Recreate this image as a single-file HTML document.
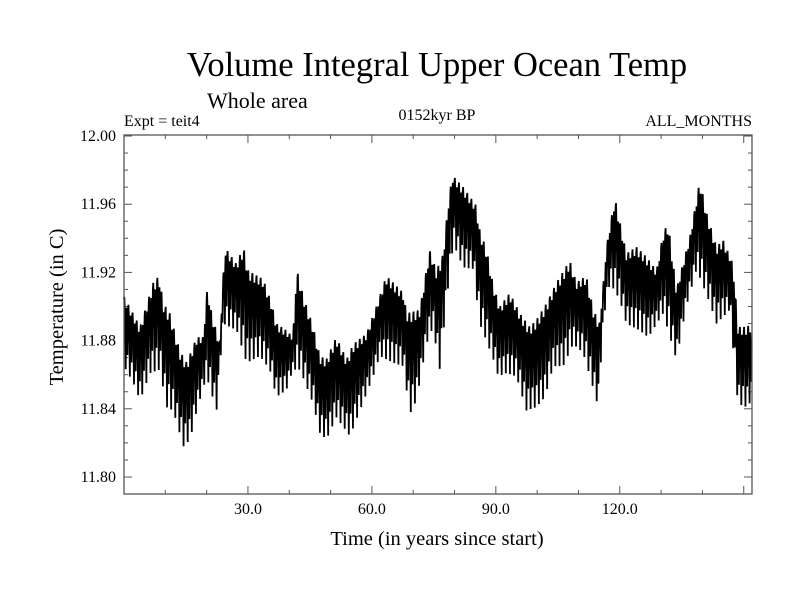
<!DOCTYPE html>
<html><head><meta charset="utf-8"><style>
body{margin:0;background:#fff}
svg text{font-family:"Liberation Serif",serif;fill:#000}
</style></head><body>
<svg id="chart" width="800" height="600" viewBox="0 0 800 600" xmlns="http://www.w3.org/2000/svg">
<rect width="800" height="600" fill="#fff"/>
<text x="437" y="76" font-size="34.5" text-anchor="middle">Volume Integral Upper Ocean Temp</text>
<text x="207" y="108" font-size="22">Whole area</text>
<text x="124" y="126" font-size="16">Expt = teit4</text>
<text x="437" y="120" font-size="16" text-anchor="middle">0152kyr BP</text>
<text x="752" y="126" font-size="16" text-anchor="end">ALL_MONTHS</text>
<text transform="translate(63,307) rotate(-90)" font-size="20.5" text-anchor="middle">Temperature (in C)</text>
<text x="437" y="545" font-size="20.5" text-anchor="middle">Time (in years since start)</text>
<g id="axes"></g>
<g id="series"></g>
<rect x="124" y="135" width="628" height="359" fill="none" stroke="#555" stroke-width="1.3"/>
</svg>
<script>
const hiYears=[0,3.9,7.1,8.5,9.5,11.1,13.5,15.2,17.6,19.2,20.2,21.2,23.2,24.4,27.2,28.9,30.1,33.7,35.7,36.9,39.3,40.9,41.8,43.4,45.8,47.4,49,51.4,53.9,55.5,58.7,61.1,63.5,67.6,68.4,71.6,74,75.6,77.3,78.5,79.5,82.1,85.3,86.1,87.8,89.4,91,93.4,95.8,98.2,99.8,102.3,104.7,107.9,109.5,111.9,113.6,115.2,116.8,118.8,120.4,121.6,124,126.5,128.9,130.5,131.7,133.7,137,139.4,141,143.4,145,147.4,148.6,150.7,152];
const hiVals=[11.906,11.888,11.914,11.918,11.902,11.896,11.874,11.867,11.882,11.882,11.912,11.896,11.878,11.935,11.925,11.935,11.921,11.916,11.902,11.890,11.886,11.882,11.922,11.906,11.888,11.871,11.869,11.882,11.869,11.878,11.884,11.900,11.918,11.908,11.896,11.898,11.933,11.921,11.931,11.961,11.977,11.970,11.959,11.945,11.933,11.912,11.900,11.908,11.896,11.888,11.892,11.902,11.914,11.927,11.914,11.918,11.898,11.890,11.935,11.964,11.945,11.931,11.935,11.929,11.921,11.943,11.949,11.910,11.941,11.974,11.955,11.935,11.939,11.925,11.888,11.888,11.890];
const loYears=[0,2.3,3.9,6.3,8.7,10.3,11.9,14.4,16,17.6,20,22.4,24,27.3,29.7,32.9,35.3,36.9,39.3,40.9,42.6,45.8,47.4,49,51.4,54.7,57.1,60.3,61.9,65.2,67.6,69.2,70.8,73.2,74.8,76.4,78,79.7,82.1,84.5,86.1,87.4,89.4,90.6,92.6,95,97.4,99.8,101.9,103.9,106.3,108.7,111.1,112.8,114.8,116,117.6,120,121.6,124.8,126.9,130.5,133.7,136.1,138.6,141.8,143.4,146.6,148.6,150.7,152];
const loVals=[11.865,11.855,11.845,11.861,11.863,11.841,11.839,11.818,11.822,11.839,11.859,11.839,11.890,11.886,11.867,11.871,11.863,11.847,11.851,11.863,11.863,11.843,11.826,11.822,11.835,11.824,11.839,11.859,11.871,11.867,11.865,11.837,11.845,11.878,11.888,11.863,11.902,11.937,11.923,11.922,11.890,11.882,11.869,11.859,11.861,11.859,11.839,11.841,11.847,11.865,11.865,11.878,11.873,11.859,11.841,11.892,11.914,11.904,11.890,11.886,11.882,11.896,11.869,11.900,11.922,11.902,11.890,11.898,11.843,11.841,11.845];
const yTickLabels=["11.80","11.84","11.88","11.92","11.96","12.00"];
const xTickLabels=["30.0","60.0","90.0","120.0"];

const NS="http://www.w3.org/2000/svg";
const X0=124,X1=752,XMIN=0,XMAX=152;
const xs=v=>X0+(v-XMIN)/(XMAX-XMIN)*(X1-X0);
const ys=v=>136+(12.0-v)/0.2*341;
function look(xa,va,t){if(t<=xa[0])return va[0];for(let i=1;i<xa.length;i++){if(t<=xa[i]){const f=(t-xa[i-1])/(xa[i]-xa[i-1]);return va[i-1]+f*(va[i]-va[i-1]);}}return va[va.length-1];}
function mk(tag,attrs,parent){const e=document.createElementNS(NS,tag);for(const k in attrs)e.setAttribute(k,attrs[k]);parent.appendChild(e);return e;}
const axes=document.getElementById('axes');
for(let i=0;i<=20;i++){
  const v=11.80+i*0.01, y=ys(v), major=i%4===0;
  const L=major?8:4;
  const t1=mk('line',{x1:X0,x2:X0+L,y1:y,y2:y,stroke:'#555','stroke-width':1},axes);
  
  
  const t2=mk('line',{x1:X1,x2:X1-L,y1:y,y2:y,stroke:'#555','stroke-width':1},axes);
  
  
}
yTickLabels.forEach((s,i)=>{
  const tx=mk('text',{x:116,y:ys(parseFloat(s))+5,'font-size':16,'text-anchor':'end'},axes);
  tx.textContent=s;
  
  
});
for(let v=10;v<XMAX;v+=10){
  const x=xs(v), major=v%30===0, L=major?8:4;
  const b=mk('line',{x1:x,x2:x,y1:494,y2:494-L,stroke:'#555','stroke-width':1},axes);
  
  
  const t=mk('line',{x1:x,x2:x,y1:135,y2:135+L,stroke:'#555','stroke-width':1},axes);
  
  
}
xTickLabels.forEach(s=>{
  const tx=mk('text',{x:xs(parseFloat(s)),y:514,'font-size':16,'text-anchor':'middle'},axes);
  tx.textContent=s;
  
  
});
const pts=[];
const frac=[0.05,0,0.15,0.35,0.55,1,0.3,0.1,0.2,0.5,0.75,0.25];
for(let yr=0;yr<XMAX;yr++){
  for(let m=0;m<12;m++){
    const t=yr+m/12;
    const hi=look(hiYears,hiVals,t), lo=look(loYears,loVals,t);
    const v=hi-frac[m]*(hi-lo);
    pts.push(xs(t).toFixed(2)+','+ys(v).toFixed(2));
  }
}
const line=mk('polyline',{points:pts.join(' '),fill:'none',stroke:'#000','stroke-width':1.8,'stroke-linejoin':'miter'},document.getElementById('series'));


</script>
</body></html>
